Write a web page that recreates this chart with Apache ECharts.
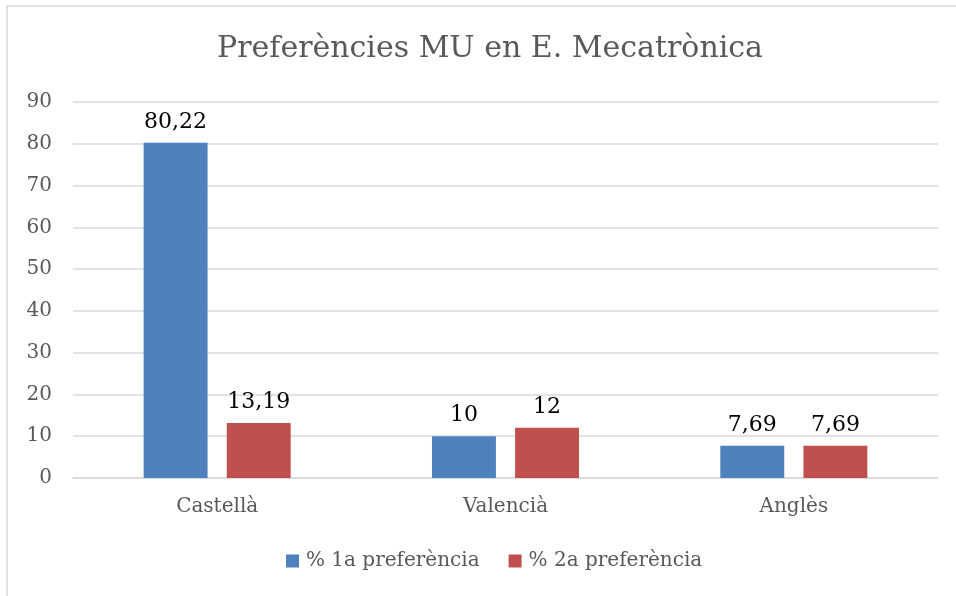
<!DOCTYPE html>
<html>
<head>
<meta charset="utf-8" />
<script type="text/javascript" src="https://cdn.jsdelivr.net/npm/echarts@6/dist/echarts.min.js"></script>
<title>Preferències MU</title>
<style>
  html, body { margin: 0; padding: 0; background: #fff; }
</style>
</head>
<body>
<div id="main" style="width:956px;height:596px"></div>
<script type="text/javascript">
  var categories = ['Castellà', 'Valencià', 'Anglès'];
  var seriesNames = ['% 1a preferència', '% 2a preferència'];
  var pref1 = [80.22, 10, 7.69];
  var pref2 = [13.19, 12, 7.69];
  var yTicks = { min: 0, max: 90, interval: 10 };

  var serif = '"DejaVu Serif", "Liberation Serif", serif';
  var myChart = echarts.init(document.getElementById('main'));

  function fmt(p) {
    return String(p.value).replace('.', ',');
  }

  var option = {
    backgroundColor: '#fff',
    animation: false,
    textStyle: { fontFamily: serif },
    title: {
      text: 'Preferències MU en E. Mecatrònica',
      left: 485,
      textAlign: 'center',
      top: 29,
      textStyle: { fontFamily: serif, fontSize: 30, fontWeight: 'normal', color: '#595959' }
    },
    legend: {
      data: seriesNames,
      bottom: 20,
      left: 281,
      itemWidth: 13,
      itemHeight: 13,
      itemGap: 29,
      icon: 'rect',
      textStyle: { fontFamily: serif, fontSize: 20, color: '#595959', padding: [0, 0, 0, 2] }
    },
    graphic: [{
      type: 'rect',
      shape: { x: 7, y: 6, width: 1000, height: 700 },
      style: { fill: 'none', stroke: '#d9d9d9', lineWidth: 1.5 },
      silent: true
    }],
    grid: { left: 73, right: 18, top: 102, bottom: 118 },
    xAxis: {
      type: 'category',
      data: categories,
      axisTick: { show: false },
      axisLine: { lineStyle: { color: '#d9d9d9', width: 1.5 } },
      axisLabel: { fontFamily: serif, fontSize: 20, color: '#595959', margin: 19 }
    },
    yAxis: {
      type: 'value',
      min: yTicks.min,
      max: yTicks.max,
      interval: yTicks.interval,
      axisLine: { show: false },
      axisTick: { show: false },
      axisLabel: { fontFamily: serif, fontSize: 20, color: '#595959', margin: 21 },
      splitLine: { lineStyle: { color: '#d9d9d9', width: 1.5 } }
    },
    series: [
      {
        name: seriesNames[0],
        type: 'bar',
        data: pref1,
        barGap: '30%',
        barCategoryGap: '49%',
        itemStyle: { color: '#4f81bd' },
        label: { show: true, position: 'top', distance: 10, formatter: fmt,
                 fontFamily: serif, fontSize: 22, color: '#000' }
      },
      {
        name: seriesNames[1],
        type: 'bar',
        data: pref2,
        barGap: '30%',
        barCategoryGap: '49%',
        itemStyle: { color: '#c0504d' },
        label: { show: true, position: 'top', distance: 10, formatter: fmt,
                 fontFamily: serif, fontSize: 22, color: '#000' }
      }
    ]
  };
  myChart.setOption(option);
</script>
</body>
</html>
